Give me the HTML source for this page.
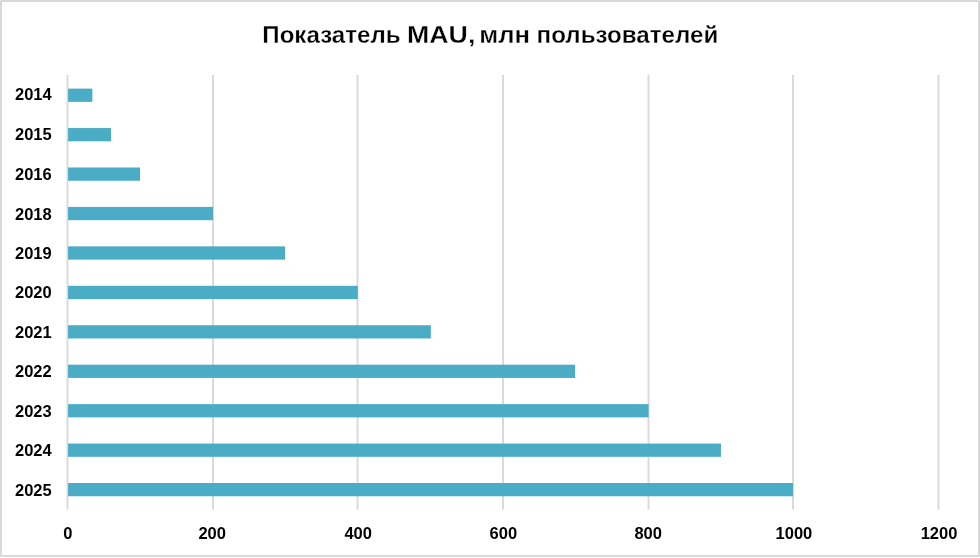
<!DOCTYPE html>
<html lang="ru">
<head>
<meta charset="utf-8">
<title>Показатель MAU, млн пользователей</title>
<style>
html,body{margin:0;padding:0;background:#fff;}
body{width:980px;height:558px;overflow:hidden;position:relative;}
svg{position:absolute;left:0;top:0;display:block;will-change:transform;}
text{font-family:"Liberation Sans",sans-serif;font-weight:bold;fill:#000;}
.t{font-size:24.5px;stroke:#fff;stroke-width:0.3px;paint-order:fill stroke;}
.l{font-size:16.5px;}
</style>
</head>
<body>
<svg width="980" height="558" viewBox="0 0 980 558">
<rect x="0" y="0" width="980" height="558" fill="#fff"/>
<!-- outer frame -->
<rect x="1" y="1" width="978" height="555" rx="0.5" ry="0.5" fill="none" stroke="#D9D9D9" stroke-width="2"/>
<!-- gridlines -->
<g fill="#D9D9D9">
<rect x="66.55" y="75.00" width="1.90" height="434.70"/>
<rect x="212.05" y="75.00" width="1.90" height="434.70"/>
<rect x="356.55" y="75.00" width="1.90" height="434.70"/>
<rect x="502.05" y="75.00" width="1.90" height="434.70"/>
<rect x="647.55" y="75.00" width="1.90" height="434.70"/>
<rect x="792.05" y="75.00" width="1.90" height="434.70"/>
<rect x="937.55" y="75.00" width="1.90" height="434.70"/>
</g>
<!-- bars -->
<g fill="#4BACC6">
<rect x="68.10" y="88.61" width="24.25" height="13.25"/>
<rect x="68.10" y="128.05" width="42.90" height="13.25"/>
<rect x="68.10" y="167.49" width="71.90" height="13.25"/>
<rect x="68.10" y="206.93" width="144.90" height="13.25"/>
<rect x="68.10" y="246.37" width="217.00" height="13.25"/>
<rect x="68.10" y="285.81" width="289.70" height="13.25"/>
<rect x="68.10" y="325.24" width="362.75" height="13.25"/>
<rect x="68.10" y="364.68" width="507.00" height="13.25"/>
<rect x="68.10" y="404.12" width="580.50" height="13.25"/>
<rect x="68.10" y="443.56" width="652.85" height="13.25"/>
<rect x="68.10" y="483.00" width="724.90" height="13.25"/>
</g>
<!-- category labels -->
<g class="l" text-anchor="end">
<text x="51.7" y="100">2014</text>
<text x="51.7" y="140">2015</text>
<text x="51.7" y="180">2016</text>
<text x="51.7" y="220">2018</text>
<text x="51.7" y="259">2019</text>
<text x="51.7" y="298">2020</text>
<text x="51.7" y="338">2021</text>
<text x="51.7" y="377">2022</text>
<text x="51.7" y="417">2023</text>
<text x="51.7" y="456">2024</text>
<text x="51.7" y="496">2025</text>
</g>
<!-- value axis labels -->
<g class="l" text-anchor="middle">
<text x="67.80" y="539.0">0</text>
<text x="212.15" y="539.0">200</text>
<text x="358.15" y="539.0">400</text>
<text x="503.35" y="539.0">600</text>
<text x="648.15" y="539.0">800</text>
<text x="793.95" y="539.0">1000</text>
<text x="939.05" y="539.0">1200</text>
</g>
<!-- title -->
<g class="t">
<text transform="translate(262.30 43.2) scale(0.9850 1)">Показатель</text>
<text transform="translate(407.10 43.2) scale(1.0901 1)">MAU,</text>
<text transform="translate(479.20 43.2) scale(1.0461 1)">млн</text>
<text transform="translate(536.60 43.2) scale(0.9865 1)">пользователей</text>
</g>
</svg>
</body>
</html>
